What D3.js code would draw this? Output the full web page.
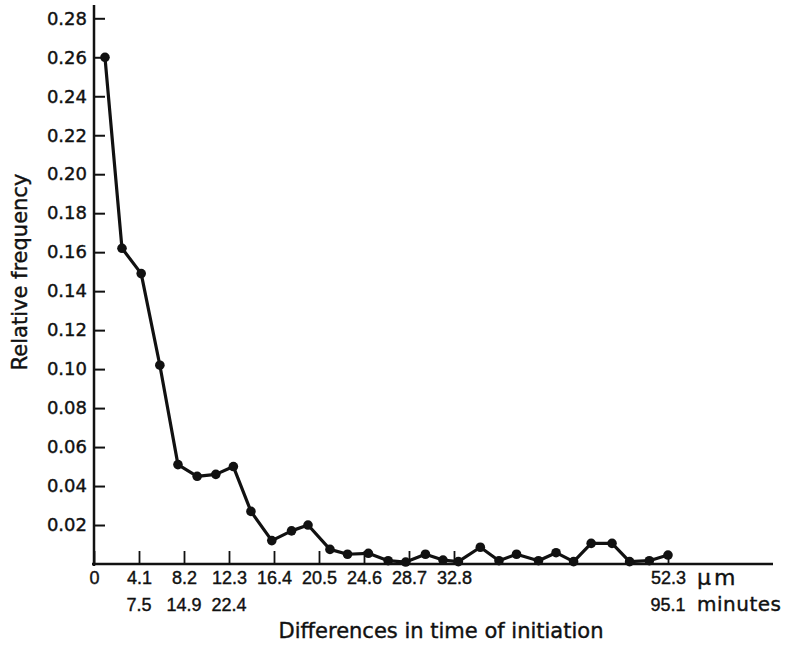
<!DOCTYPE html>
<html>
<head>
<meta charset="utf-8">
<script src="https://cdn.jsdelivr.net/npm/d3@7"></script>
<style>
  body { margin: 0; background: #fff; }
  text { fill: #111; stroke: #111; stroke-width: 0.4px; }
</style>
</head>
<body>
<svg id="chart"></svg>
<script>
// ====== data ======
const distUm = [1.0, 2.55, 4.3, 6.0, 7.65, 9.4, 11.1, 12.7, 14.3, 16.2, 18.0, 19.5, 21.5, 23.1, 25.0,
  26.8, 28.4, 30.2, 31.8, 33.2, 35.2, 36.9, 38.5, 40.5, 42.1, 43.7, 45.3, 47.2, 48.8, 50.6, 52.3];
const relFreq = [0.26, 0.162, 0.149, 0.102, 0.051, 0.045, 0.046, 0.050, 0.027, 0.012, 0.017, 0.020, 0.0075, 0.005, 0.0055,
  0.0017, 0.001, 0.005, 0.002, 0.0012, 0.0086, 0.0017, 0.005, 0.0017, 0.0058, 0.0012, 0.0106, 0.0106, 0.0012, 0.0017, 0.0046];
const umTicks = [0, 4.1, 8.2, 12.3, 16.4, 20.5, 24.6, 28.7, 32.8, 52.3];
const minuteTicks = [4.1, 8.2, 12.3, 52.3];
const minuteLabels = ["7.5", "14.9", "22.4", "95.1"];
const freqTicks = [0.02, 0.04, 0.06, 0.08, 0.10, 0.12, 0.14, 0.16, 0.18, 0.20, 0.22, 0.24, 0.26, 0.28];

const width = 790, height = 645;
const svg = d3.select('#chart').attr('width', width).attr('height', height);

// ====== scales ======
const x = d3.scaleLinear().domain([0, 52.3]).range([94, 668]);
const y = d3.scaleLinear().domain([0, 0.28]).range([564, 18.3]);

// ====== y axis ======
const yAxis = d3.axisLeft(y).tickValues(freqTicks).tickSize(-11).tickPadding(7)
  .tickFormat(d3.format('.2f'));
const gy = svg.append('g').attr('transform', 'translate(94,0)').call(yAxis);
gy.select('.domain').remove();
gy.selectAll('.tick line').attr('stroke', '#111').attr('stroke-width', 2);
gy.selectAll('.tick text').style('font-family', 'DejaVu Sans, sans-serif').style('font-size', '18px');

svg.append('line').attr('x1', 94).attr('x2', 94).attr('y1', 5).attr('y2', 566)
  .attr('stroke', '#111').attr('stroke-width', 2.5);

// ====== x axis ======
const xAxis = d3.axisBottom(x).tickValues(umTicks).tickSize(-13).tickPadding(7)
  .tickFormat(d => d === 0 ? '0' : d3.format('.1f')(d));
const gx = svg.append('g').attr('transform', 'translate(0,564)').call(xAxis);
gx.select('.domain').remove();
gx.selectAll('.tick line').attr('stroke', '#111').attr('stroke-width', 1.8);
gx.selectAll('.tick text').style('font-family', 'Liberation Sans, sans-serif').style('font-size', '18px');

svg.append('line').attr('x1', 92).attr('x2', 773).attr('y1', 564).attr('y2', 564)
  .attr('stroke', '#111').attr('stroke-width', 2.5);

// minutes row
svg.append('g').selectAll('text').data(minuteTicks).enter().append('text')
  .attr('x', d => x(d)).attr('y', 611)
  .attr('text-anchor', 'middle')
  .style('font-family', 'Liberation Sans, sans-serif').style('font-size', '18px')
  .text((d, i) => minuteLabels[i]);

svg.append('text').attr('x', 697).attr('y', 585)
  .style('font-family', 'DejaVu Sans, sans-serif').style('font-size', '22px')
  .style('letter-spacing', '3px')
  .text('\u03bcm');
svg.append('text').attr('x', 697).attr('y', 611)
  .style('font-family', 'DejaVu Sans, sans-serif').style('font-size', '20px')
  .style('letter-spacing', '0.5px')
  .text('minutes');

// ====== axis titles ======
svg.append('text').attr('x', 441).attr('y', 638).attr('text-anchor', 'middle')
  .style('font-family', 'DejaVu Sans, sans-serif').style('font-size', '21px')
  .text('Differences in time of initiation');

svg.append('text').attr('transform', 'translate(27,272) rotate(-90)').attr('text-anchor', 'middle')
  .style('font-family', 'DejaVu Sans, sans-serif').style('font-size', '21px')
  .text('Relative frequency');

// ====== line and points ======
const pts = distUm.map((d, i) => ({um: d, f: relFreq[i]}));
const line = d3.line().x(d => x(d.um)).y(d => y(d.f));

svg.append('path').datum(pts).attr('d', line)
  .attr('fill', 'none').attr('stroke', '#111').attr('stroke-width', 3.2).attr('stroke-linejoin', 'round');

svg.selectAll('circle.pt').data(pts).enter().append('circle')
  .attr('class', 'pt')
  .attr('cx', d => x(d.um)).attr('cy', d => y(d.f)).attr('r', 4.8)
  .attr('fill', '#111');
</script>
</body>
</html>
